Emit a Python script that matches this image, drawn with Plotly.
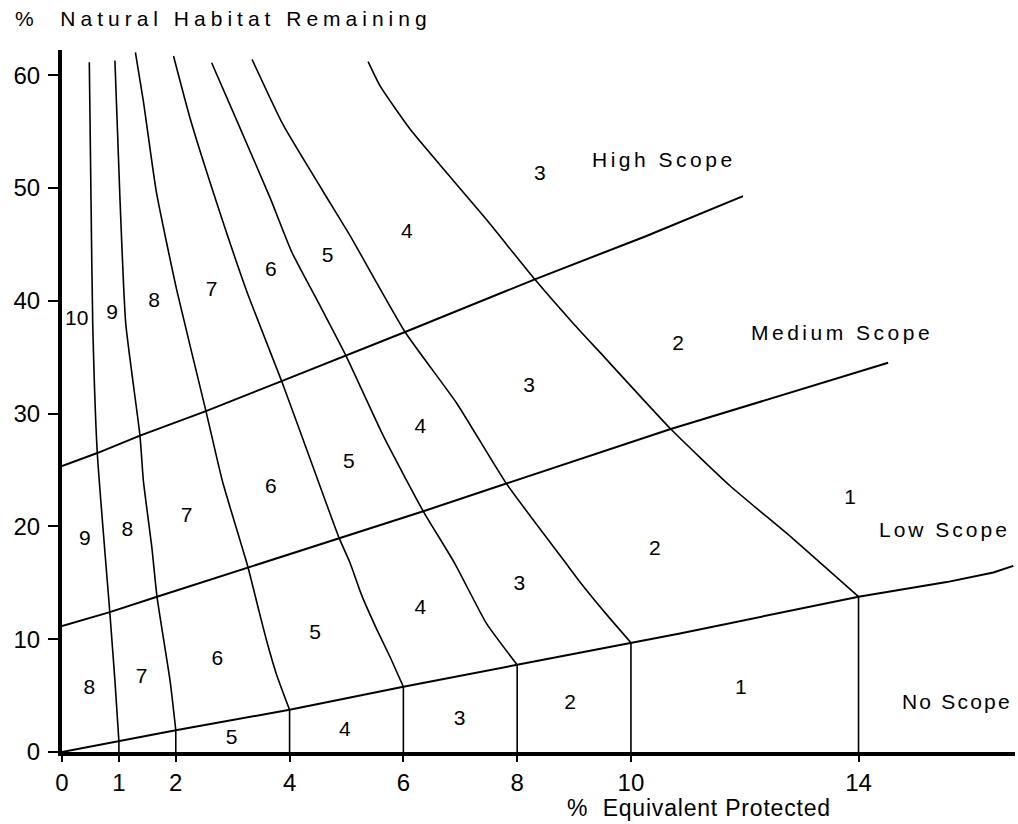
import plotly.graph_objects as go

FONT = "Liberation Sans, Arial, sans-serif"

# ---------------- axis ticks ----------------
x_tick_vals = [0, 1, 2, 4, 6, 8, 10, 14]
y_tick_vals = [0, 10, 20, 30, 40, 50, 60]

# ---------------- scope boundary lines ----------------
no_low_x = [0, 1.0, 2.0, 4.0, 6.0, 8.0, 10.0, 10.86, 14.0, 15.55, 16.37, 16.72]
no_low_y = [0, 0.96, 1.93, 3.74, 5.78, 7.73, 9.69, 10.5, 13.77, 15.06, 15.91, 16.5]

low_med_x = [0, 0.84, 1.67, 3.27, 4.87, 6.35, 7.81, 10.7, 14.52]
low_med_y = [11.17, 12.4, 13.76, 16.36, 18.98, 21.34, 23.8, 28.63, 34.5]

med_high_x = [0, 0.62, 1.37, 2.53, 3.86, 4.99, 6.03, 8.31, 10.25, 11.97]
med_high_y = [25.35, 26.5, 28.05, 30.22, 32.88, 35.14, 37.23, 41.9, 45.7, 49.27]

# ---------------- iso-lines (% equivalent protected) ----------------
iso1_x = [1.0, 1.0, 0.93, 0.84, 0.62, 0.54, 0.51, 0.48]
iso1_y = [0, 0.96, 6.35, 12.4, 26.5, 38.0, 48.9, 61.15]

iso2_x = [2.0, 2.0, 1.9, 1.67, 1.58, 1.43, 1.37, 1.12, 1.02, 0.93]
iso2_y = [0, 1.93, 6.3, 13.76, 18.1, 24.06, 28.05, 37.99, 48.9, 61.3]

iso4_x = [4.0, 4.0, 3.77, 3.6, 3.45, 3.27, 2.82, 2.53, 2.02, 1.66, 1.43, 1.29]
iso4_y = [0, 3.74, 6.88, 9.79, 12.74, 16.36, 24.0, 30.22, 40.88, 49.6, 57.7, 62.03]

iso6_x = [6.0, 6.0, 5.76, 5.53, 5.27, 5.06, 4.87, 4.36, 3.86, 3.25, 2.66, 2.25, 1.96]
iso6_y = [0, 5.78, 8.49, 10.9, 13.86, 16.8, 18.98, 26.0, 32.88, 40.8, 49.6, 56.2, 61.7]

iso8_x = [8.0, 8.0, 7.46, 6.9, 6.35, 5.65, 4.99, 4.5, 4.04, 3.66, 3.13, 2.63]
iso8_y = [0, 7.73, 11.4, 16.75, 21.34, 28.0, 35.14, 39.9, 44.3, 49.1, 55.3, 61.1]

iso10_x = [10.0, 10.0, 9.57, 9.1, 8.87, 7.81, 6.94, 6.03, 5.06, 4.6, 3.89, 3.34]
iso10_y = [0, 9.69, 12.2, 15.1, 16.65, 23.8, 30.9, 37.23, 45.8, 49.6, 55.56, 61.4]

iso14_x = [14.0, 14.0, 12.85, 11.74, 10.7, 9.46, 8.99, 8.31, 7.46, 6.82, 6.12, 5.59, 5.38]
iso14_y = [0, 13.77, 18.9, 23.6, 28.63, 35.4, 37.97, 41.9, 47.2, 51.0, 55.2, 59.05, 61.2]

# ---------------- cell numbers ----------------
cell_x = [0.26, 0.88, 1.62, 2.63, 3.67, 4.67, 6.06, 8.40,
          0.40, 1.15, 2.19, 3.67, 5.04, 6.30, 8.21, 10.83,
          0.48, 1.40, 2.73, 4.45, 6.30, 8.04, 10.42, 13.85,
          2.98, 4.97, 6.99, 8.93, 11.93]
cell_y = [38.29, 38.86, 39.92, 40.85, 42.64, 43.88, 46.07, 51.17,
          18.78, 19.57, 20.86, 23.40, 25.62, 28.73, 32.38, 36.09,
          5.63, 6.62, 8.20, 10.49, 12.71, 14.86, 17.96, 22.43,
          1.14, 1.90, 2.85, 4.24, 5.61]
cell_text = ["10", "9", "8", "7", "6", "5", "4", "3",
             "9", "8", "7", "6", "5", "4", "3", "2",
             "8", "7", "6", "5", "4", "3", "2", "1",
             "5", "4", "3", "2", "1"]

# ---------------- scope labels ----------------
scope_names = ["High Scope", "Medium Scope", "Low Scope", "No Scope"]
scope_x = [9.28, 12.08, 14.32, 14.73]
scope_y = [52.55, 37.22, 19.70, 4.46]

fig = go.Figure()

boundaries = [(no_low_x, no_low_y), (low_med_x, low_med_y), (med_high_x, med_high_y)]
for bx, by in boundaries:
    fig.add_trace(go.Scatter(x=bx, y=by, mode="lines",
                             line=dict(color="black", width=2),
                             hoverinfo="skip", showlegend=False))

isolines = [(iso1_x, iso1_y), (iso2_x, iso2_y), (iso4_x, iso4_y), (iso6_x, iso6_y),
            (iso8_x, iso8_y), (iso10_x, iso10_y), (iso14_x, iso14_y)]
for ix, iy in isolines:
    # straight vertical part from the axis up to the no-scope boundary
    fig.add_trace(go.Scatter(x=ix[:2], y=iy[:2], mode="lines",
                             line=dict(color="black", width=1.6),
                             hoverinfo="skip", showlegend=False))
    # curved part above the no-scope boundary
    fig.add_trace(go.Scatter(x=ix[1:], y=iy[1:], mode="lines", line_shape="spline",
                             line=dict(color="black", width=1.6, smoothing=0.5),
                             hoverinfo="skip", showlegend=False))

fig.add_trace(go.Scatter(x=cell_x, y=cell_y, text=cell_text, mode="text",
                         textposition="middle center",
                         textfont=dict(family=FONT, size=21, color="black"),
                         cliponaxis=False, hoverinfo="skip", showlegend=False))

for name, sx, sy in zip(scope_names, scope_x, scope_y):
    fig.add_annotation(x=sx, y=sy, xref="x", yref="y", text=name, showarrow=False,
                       xanchor="left", yanchor="middle", align="left",
                       font=dict(family=FONT, size=21, color="black"))

fig.add_annotation(x=-0.0514, y=1.0442, xref="paper", yref="paper",
                   text="%\u00a0\u00a0Natural Habitat Remaining", showarrow=False,
                   xanchor="left", yanchor="middle", align="left",
                   font=dict(family=FONT, size=21, color="black"))
fig.add_annotation(x=0.5278, y=-0.0798, xref="paper", yref="paper",
                   text="%\u00a0\u00a0Equivalent Protected", showarrow=False,
                   xanchor="left", yanchor="middle", align="left",
                   font=dict(family=FONT, size=23, color="black"))

axis_common = dict(showline=True, linewidth=4, linecolor="black", mirror=False,
                   ticks="outside", tickwidth=2, tickcolor="black",
                   showgrid=False, zeroline=False,
                   tickfont=dict(family=FONT, size=24, color="black"))

fig.update_layout(
    width=1018, height=824,
    margin=dict(l=62, r=3, t=50, b=72, pad=0),
    paper_bgcolor="white", plot_bgcolor="white",
    xaxis=dict(range=[0, 16.75], tickmode="array", tickvals=x_tick_vals,
               ticktext=[str(v) for v in x_tick_vals], ticklen=6,
               ticklabelstandoff=0, **axis_common),
    yaxis=dict(range=[0, 62.23], tickmode="array", tickvals=y_tick_vals,
               ticktext=[str(v) for v in y_tick_vals], ticklen=10,
               ticklabelstandoff=3, **axis_common),
    showlegend=False,
)

post = """
document.body.style.margin = '0';
document.body.style.overflow = 'hidden';
var gd = document.getElementById('{plot_id}');
gd.querySelectorAll('.annotation-text').forEach(function(t){
  var s = t.textContent;
  if (s.indexOf('Natural') >= 0) { t.style.letterSpacing = '5px'; }
  else if (s.indexOf('Equivalent') >= 0) { t.style.letterSpacing = '0.8px'; }
  else if (s.indexOf('High Scope') >= 0 || s.indexOf('Medium Scope') >= 0) { t.style.letterSpacing = '3.5px'; }
  else if (s.indexOf('Low Scope') >= 0) { t.style.letterSpacing = '3px'; }
  else if (s.indexOf('No Scope') >= 0) { t.style.letterSpacing = '2.2px'; }
});
"""

fig.write_html("out.html", post_script=post, config={"displayModeBar": False})
